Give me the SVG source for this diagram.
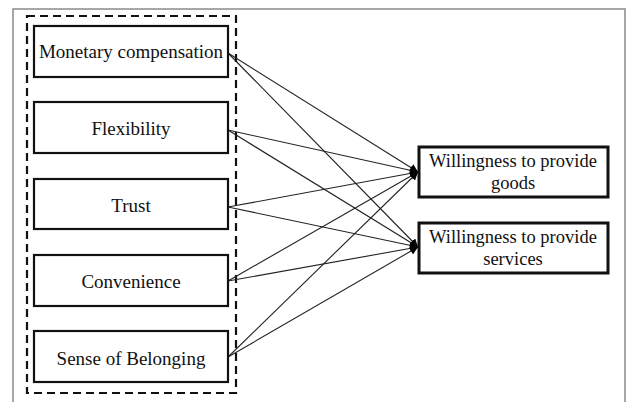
<svg xmlns="http://www.w3.org/2000/svg" width="626" height="402" viewBox="0 0 626 402">
<style>
.bg{fill:#fff}
.frame{fill:none;stroke:#8a8a8a;stroke-width:1.5}
.dash{fill:none;stroke:#111;stroke-width:2.2;stroke-dasharray:8,5}
.box{fill:#fff;stroke:#111;stroke-width:2.2}
.obox{fill:#fff;stroke:#111;stroke-width:3}
.t{font-family:"Liberation Serif","Times New Roman",serif;font-size:19px;fill:#111;text-anchor:middle}
.t2{font-family:"Liberation Serif","Times New Roman",serif;font-size:18.5px;fill:#111;text-anchor:middle}
.c{stroke:#222;stroke-width:1.1;fill:none;marker-end:url(#ah)}
</style>
<defs>
<marker id="ah" viewBox="0 0 10 10" refX="10" refY="5" markerWidth="9" markerHeight="8" markerUnits="userSpaceOnUse" orient="auto">
<path d="M0,0 L10,5 L0,10 z" fill="#000"/>
</marker>
</defs>
<rect class="bg" x="0" y="0" width="626" height="402"/>
<path class="frame" d="M13,402 V9 H625 V402"/>
<rect class="dash" x="27" y="16" width="209" height="377"/>
<g id="connectors">
<line class="c" x1="228" y1="53" x2="418" y2="172"/>
<line class="c" x1="228" y1="53" x2="418" y2="247"/>
<line class="c" x1="228" y1="130" x2="418" y2="172"/>
<line class="c" x1="228" y1="130" x2="418" y2="247"/>
<line class="c" x1="228" y1="207" x2="418" y2="172"/>
<line class="c" x1="228" y1="207" x2="418" y2="247"/>
<line class="c" x1="228" y1="281" x2="418" y2="172"/>
<line class="c" x1="228" y1="281" x2="418" y2="247"/>
<line class="c" x1="228" y1="357" x2="418" y2="172"/>
<line class="c" x1="228" y1="357" x2="418" y2="247"/>
</g>
<g id="monetary">
<rect class="box" x="34" y="26" width="194" height="51"/>
<text class="t" x="131" y="58">Monetary compensation</text>
</g>
<g id="flexibility">
<rect class="box" x="34" y="102" width="194" height="51"/>
<text class="t" x="131" y="135">Flexibility</text>
</g>
<g id="trust">
<rect class="box" x="34" y="179" width="194" height="50"/>
<text class="t" x="131" y="212">Trust</text>
</g>
<g id="convenience">
<rect class="box" x="34" y="255" width="194" height="51"/>
<text class="t" x="131" y="288">Convenience</text>
</g>
<g id="belonging">
<rect class="box" x="34" y="331" width="194" height="51"/>
<text class="t" x="131" y="365">Sense of Belonging</text>
</g>
<g id="goods">
<rect class="obox" x="419" y="147" width="189" height="50"/>
<text class="t2" x="513" y="167">Willingness to provide</text>
<text class="t2" x="513" y="189">goods</text>
</g>
<g id="services">
<rect class="obox" x="419" y="223" width="189" height="50"/>
<text class="t2" x="513" y="243">Willingness to provide</text>
<text class="t2" x="513" y="265">services</text>
</g>
</svg>
